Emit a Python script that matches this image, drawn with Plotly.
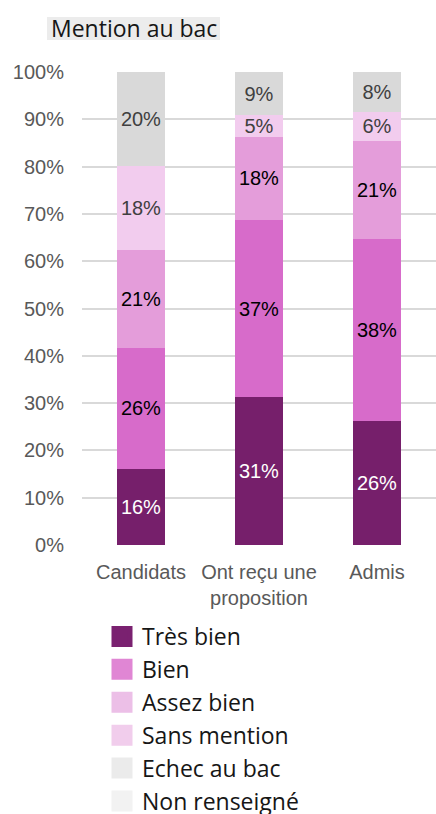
import plotly.graph_objects as go

# Categories and stacked shares (%) for each mention
categories = ["Candidats", "Ont reçu une<br>proposition", "Admis"]
tres_bien = [16.1, 31.3, 26.3]
bien = [25.6, 37.4, 38.4]
assez_bien = [20.7, 17.6, 20.7]
sans_mention = [17.7, 4.6, 6.2]
non_renseigne = [20.0, 9.1, 8.4]

legend_names = ["Très bien", "Bien", "Assez bien", "Sans mention", "Echec au bac", "Non renseigné"]
legend_colors = ["#7a2170", "#e086d4", "#ecbfe7", "#f1cdec", "#ebebeb", "#f2f2f2"]

series = [
    (tres_bien, "#761f6b", "#ffffff", "Très bien"),
    (bien, "#d76bca", "#000000", "Bien"),
    (assez_bien, "#e49dda", "#000000", "Assez bien"),
    (sans_mention, "#f2ccee", "#404040", "Sans mention"),
    (non_renseigne, "#d9d9d9", "#404040", "Non renseigné"),
]

W, H = 436, 814
L, T, B = 82, 72, 269
PH = H - T - B
PW = W - L

fig = go.Figure()

for values, color, txtcolor, name in series:
    fig.add_trace(go.Bar(
        x=categories, y=values, name=name,
        marker=dict(color=color, line=dict(width=0)),
        text=[f"{v:.0f}%" for v in values],
        textposition="inside", insidetextanchor="middle", textangle=0,
        textfont=dict(family="Liberation Sans, Arial", size=20, color=txtcolor),
        showlegend=False, legendgroup=name, hoverinfo="skip",
    ))

# Legend swatches
for name, color in zip(legend_names, legend_colors):
    fig.add_trace(go.Scatter(
        x=[None], y=[None], mode="markers", name=name, legendgroup=name,
        marker=dict(symbol="square", size=16, color=color, line=dict(color=color, width=5)),
    ))

fig.update_layout(
    width=W, height=H,
    margin=dict(l=L, r=0, t=T, b=B, autoexpand=False),
    barmode="stack", bargap=0.6,
    plot_bgcolor="white", paper_bgcolor="white",
    uniformtext=dict(minsize=20, mode="show"),
    xaxis=dict(
        showgrid=False, showline=False, zeroline=False,
        tickfont=dict(family="Liberation Sans, Arial", size=20, color="#595959"),
        tickangle=0, automargin=False, ticklabelstandoff=13,
    ),
    yaxis=dict(
        range=[0, 100], dtick=10, ticksuffix="%",
        showgrid=True, gridcolor="#d9d9d9", gridwidth=2,
        zeroline=False, showline=False,
        tickfont=dict(family="Liberation Sans, Arial", size=20, color="#595959"),
        ticklabelstandoff=17, automargin=False,
    ),
    legend=dict(
        orientation="v", xref="container", yref="container",
        x=102 / W, y=1 - 615 / H, xanchor="left", yanchor="top",
        font=dict(family="Open Sans", size=23, color="#161616"),
        tracegroupgap=0, traceorder="grouped",
        bgcolor="rgba(0,0,0,0)",
    ),
    shapes=[dict(
        type="rect", xref="paper", yref="paper", layer="below",
        x0=(47 - L) / PW, x1=(220 - L) / PW,
        y0=1 + (T - 40) / PH, y1=1 + (T - 17) / PH,
        fillcolor="#ececec", line=dict(width=0),
    )],
    annotations=[dict(
        text="Mention au bac", xref="paper", yref="paper",
        x=(133.5 - L) / PW, y=1 + (T - 28.5) / PH, xanchor="center", yanchor="middle",
        showarrow=False,
        font=dict(family="Open Sans", size=23, color="#161616"),
    )],
)

fig.write_html("out.html")
